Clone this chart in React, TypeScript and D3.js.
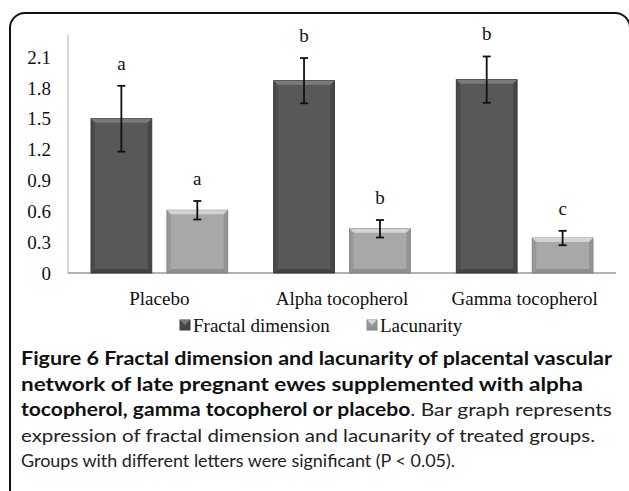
import React from 'react';
import * as d3 from 'd3';

// chart values
const groups = ['Placebo', 'Alpha tocopherol', 'Gamma tocopherol'];
const seriesNames = ['Fractal dimension', 'Lacunarity'];
const fractal = [1.5, 1.87, 1.88];
const fractalErr = [0.32, 0.22, 0.225];
const lacunarity = [0.61, 0.43, 0.34];
const lacunarityErr = [0.09, 0.085, 0.07];
const fractalLetters = ['a', 'b', 'b'];
const lacunarityLetters = ['a', 'b', 'c'];
const yTicks = [0, 0.3, 0.6, 0.9, 1.2, 1.5, 1.8, 2.1];
const yAxisTop = 2.32;

const captionLines = [
  { bold: 'Figure 6 Fractal dimension and lacunarity of placental vascular', rest: '', len: 591 },
  { bold: 'network of late pregnant ewes supplemented with alpha', rest: '', len: 562 },
  { bold: 'tocopherol, gamma tocopherol or placebo', rest: '. Bar graph represents', len: 591 },
  { bold: '', rest: 'expression of fractal dimension and lacunarity of treated groups.', len: 574 },
  { bold: '', rest: 'Groups with different letters were significant (P < 0.05).', len: 434 },
];

const W = 629;
const H = 491;
const serif = '"Liberation Serif", "Times New Roman", serif';
const sans = 'Lato, "Open Sans", sans-serif';

const palette = {
  fractal: { top: '#7a7a7a', body: '#585858', edge: '#3a3a3a' },
  lacunarity: { top: '#d4d4d4', body: '#a8a8a8', edge: '#858585' },
};

function Bar({ x, y, w, h, c }) {
  const b = Math.min(4, h / 2);
  return (
    <g>
      <rect x={x} y={y} width={w} height={h} fill={c.body} stroke={c.edge} strokeWidth={1} />
      <polygon points={`${x},${y} ${x + w},${y} ${x + w - b},${y + b} ${x + b},${y + b}`} fill={c.top} />
      <polygon points={`${x},${y} ${x + b},${y + b} ${x + b},${y + h - b} ${x},${y + h}`} fill={c.edge} opacity={0.45} />
      <polygon points={`${x + w},${y} ${x + w - b},${y + b} ${x + w - b},${y + h - b} ${x + w},${y + h}`} fill={c.edge} opacity={0.6} />
      <polygon points={`${x},${y + h} ${x + b},${y + h - b} ${x + w - b},${y + h - b} ${x + w},${y + h}`} fill={c.edge} opacity={0.7} />
    </g>
  );
}

export default function App() {
  const x0 = d3.scaleBand().domain(groups).range([68, 616]).padding(0);
  const x1 = d3.scaleBand().domain(seriesNames).range([23, x0.bandwidth() - 23]).paddingInner(0.2);
  const y = d3.scaleLinear().domain([0, 2.1]).range([273, 57]);

  const series = [
    { name: seriesNames[0], values: fractal, err: fractalErr, letters: fractalLetters, c: palette.fractal },
    { name: seriesNames[1], values: lacunarity, err: lacunarityErr, letters: lacunarityLetters, c: palette.lacunarity },
  ];

  const legendX = [180, 367];

  return (
    <svg width={W} height={H} style={{ position: 'absolute', left: 0, top: 0, background: '#fff' }}>
      <rect width={W} height={H} fill="#fff" />
      {/* frame */}
      <path d="M10,495 V28 A15,15 0 0 1 25,13 H615 A15,15 0 0 1 630,28 V495" fill="none" stroke="#111" strokeWidth={2} />

      {/* axes */}
      <line x1={68} x2={68} y1={y(yAxisTop)} y2={y(0)} stroke="#bdbdbd" strokeWidth={1.2} />
      <line x1={68} x2={616} y1={y(0)} y2={y(0)} stroke="#9a9a9a" strokeWidth={1.5} />
      {yTicks.map(t => (
        <text key={t} x={51} y={y(t)} dy="0.35em" textAnchor="end" fontFamily={serif} fontSize={19} fill="#111">
          {t === 0 ? '0' : d3.format('.1f')(t)}
        </text>
      ))}

      {/* bars */}
      {series.map(s => (
        <g key={s.name}>
          {groups.map((g, i) => {
            const bx = x0(g) + x1(s.name);
            const bw = x1.bandwidth();
            const cx = bx + bw / 2;
            const v = s.values[i];
            const hi = v + s.err[i];
            const lo = v - s.err[i];
            return (
              <g key={g}>
                <Bar x={bx} y={y(v)} w={bw} h={y(0) - y(v)} c={s.c} />
                <line x1={cx} x2={cx} y1={y(hi)} y2={y(lo)} stroke="#111" strokeWidth={1.8} />
                <line x1={cx - 4} x2={cx + 4} y1={y(hi)} y2={y(hi)} stroke="#111" strokeWidth={1.8} />
                <line x1={cx - 4} x2={cx + 4} y1={y(lo)} y2={y(lo)} stroke="#111" strokeWidth={1.8} />
                <text x={cx} y={y(hi) - 16} textAnchor="middle" fontFamily={serif} fontSize={19} fill="#111">
                  {s.letters[i]}
                </text>
              </g>
            );
          })}
        </g>
      ))}

      {/* category labels */}
      {groups.map(g => (
        <text key={g} x={x0(g) + x0.bandwidth() / 2} y={305} textAnchor="middle" fontFamily={serif} fontSize={19} fill="#111">
          {g}
        </text>
      ))}

      {/* legend */}
      {series.map((s, i) => (
        <g key={s.name}>
          <Bar x={legendX[i]} y={320} w={10} h={10} c={s.c} />
          <text x={legendX[i] + 13} y={332} fontFamily={serif} fontSize={19} fill="#111">
            {s.name}
          </text>
        </g>
      ))}

      {/* caption */}
      {captionLines.map((l, i) => (
        <text key={i} x={21} y={365 + i * 25.6} fontFamily={sans} fontSize={18} fill="#222"
          textLength={l.len} lengthAdjust="spacingAndGlyphs">
          {l.bold && <tspan fontWeight="bold" fill="#111">{l.bold}</tspan>}
          {l.rest && <tspan>{l.rest}</tspan>}
        </text>
      ))}
    </svg>
  );
}
